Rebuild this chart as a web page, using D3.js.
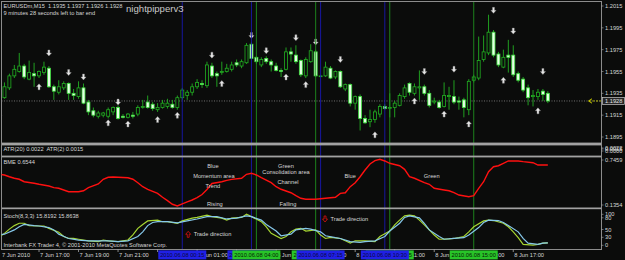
<!DOCTYPE html>
<html>
<head>
<meta charset="utf-8">
<script src="https://cdn.jsdelivr.net/npm/d3@7"></script>
<style>
  body { margin: 0; background: #0b0c0b; }
  svg { display: block; }
  text { font-family: "Liberation Sans", Arial, sans-serif; white-space: pre; }
</style>
</head>
<body>
<svg id="chart"></svg>
<script>
// EURUSDm M15, 7 Jun 2010 15:00 onwards, one row per bar: [open, high, low, close]
const bars = [
  [1.1929,1.1936,1.1927,1.1933],[1.1931,1.1945,1.1930,1.1941],[1.1940,1.1953,1.1938,1.1951],[1.1951,1.1961,1.1949,1.1957],
  [1.1955,1.1972,1.1954,1.1960],[1.1960,1.1962,1.1948,1.1950],[1.1948,1.1965,1.1947,1.1954],[1.1953,1.1963,1.1941,1.1951],
  [1.1951,1.1956,1.1949,1.1955],[1.1954,1.1964,1.1952,1.1959],[1.1958,1.1960,1.1940,1.1941],[1.1941,1.1943,1.1929,1.1937],
  [1.1936,1.1947,1.1934,1.1941],[1.1940,1.1946,1.1938,1.1944],[1.1944,1.1945,1.1929,1.1935],[1.1935,1.1939,1.1929,1.1933],
  [1.1932,1.1946,1.1930,1.1940],[1.1940,1.1944,1.1925,1.1926],[1.1927,1.1929,1.1915,1.1918],[1.1919,1.1922,1.1913,1.1915],
  [1.1914,1.1919,1.1912,1.1917],[1.1915,1.1918,1.1913,1.1917],[1.1914,1.1922,1.1912,1.1920],[1.1918,1.1923,1.1915,1.1922],
  [1.1922,1.1924,1.1911,1.1912],[1.1914,1.1916,1.1912,1.1913],[1.1913,1.1917,1.1912,1.1916],[1.1915,1.1918,1.1912,1.1914],
  [1.1916,1.1924,1.1914,1.1922],[1.1922,1.1929,1.1921,1.1923],[1.1927,1.1933,1.1921,1.1922],[1.1925,1.1927,1.1919,1.1921],
  [1.1920,1.1926,1.1918,1.1922],[1.1922,1.1929,1.1921,1.1926],[1.1923,1.1930,1.1921,1.1926],[1.1925,1.1929,1.1921,1.1922],
  [1.1922,1.1933,1.1920,1.1931],[1.1931,1.1940,1.1929,1.1938],[1.1933,1.1938,1.1929,1.1936],[1.1936,1.1944,1.1933,1.1941],
  [1.1941,1.1948,1.1939,1.1945],[1.1944,1.1947,1.1940,1.1943],[1.1942,1.1964,1.1940,1.1961],[1.1960,1.1963,1.1949,1.1951],
  [1.1953,1.1955,1.1941,1.1951],[1.1954,1.1964,1.1952,1.1955],[1.1955,1.1962,1.1954,1.1958],[1.1957,1.1964,1.1955,1.1961],
  [1.1963,1.1966,1.1959,1.1961],[1.1960,1.1966,1.1958,1.1964],[1.1963,1.1981,1.1962,1.1979],[1.1980,1.1982,1.1966,1.1967],
  [1.1968,1.1969,1.1962,1.1964],[1.1961,1.1968,1.1959,1.1966],[1.1967,1.1969,1.1962,1.1964],[1.1964,1.1966,1.1955,1.1961],
  [1.1960,1.1963,1.1955,1.1956],[1.1956,1.1958,1.1950,1.1955],[1.1957,1.1977,1.1956,1.1973],[1.1973,1.1977,1.1964,1.1971],
  [1.1970,1.1979,1.1962,1.1964],[1.1965,1.1966,1.1950,1.1952],[1.1951,1.1968,1.1949,1.1966],[1.1964,1.1980,1.1963,1.1974],
  [1.1973,1.1975,1.1950,1.1951],[1.1951,1.1952,1.1950,1.1951],[1.1951,1.1964,1.1950,1.1959],[1.1958,1.1960,1.1948,1.1949],
  [1.1950,1.1956,1.1948,1.1955],[1.1955,1.1956,1.1940,1.1941],[1.1939,1.1944,1.1937,1.1943],[1.1943,1.1944,1.1923,1.1926],
  [1.1926,1.1933,1.1920,1.1932],[1.1932,1.1934,1.1901,1.1912],[1.1912,1.1915,1.1907,1.1908],[1.1909,1.1920,1.1904,1.1911],
  [1.1911,1.1920,1.1908,1.1918],[1.1916,1.1925,1.1913,1.1923],[1.1923,1.1925,1.1920,1.1921],[1.1922,1.1935,1.1913,1.1922],
  [1.1922,1.1928,1.1913,1.1926],[1.1924,1.1935,1.1923,1.1933],[1.1932,1.1943,1.1930,1.1940],[1.1944,1.1945,1.1933,1.1936],
  [1.1935,1.1944,1.1933,1.1941],[1.1940,1.1956,1.1929,1.1941],[1.1941,1.1943,1.1933,1.1935],[1.1935,1.1938,1.1922,1.1924],
  [1.1927,1.1931,1.1925,1.1928],[1.1927,1.1929,1.1921,1.1922],[1.1923,1.1945,1.1922,1.1933],[1.1932,1.1941,1.1920,1.1933],
  [1.1932,1.1947,1.1925,1.1927],[1.1928,1.1932,1.1920,1.1927],[1.1929,1.1931,1.1913,1.1922],[1.1920,1.1948,1.1915,1.1946],
  [1.1947,1.1952,1.1945,1.1950],[1.1949,1.1987,1.1947,1.1965],[1.1966,1.1988,1.1964,1.1973],[1.1972,1.2007,1.1970,1.1991],
  [1.1991,1.1993,1.1968,1.1970],[1.1971,1.1973,1.1959,1.1961],[1.1959,1.1975,1.1958,1.1968],[1.1970,1.1984,1.1954,1.1968],
  [1.1970,1.1979,1.1950,1.1952],[1.1953,1.1955,1.1945,1.1947],[1.1948,1.1950,1.1936,1.1938],[1.1940,1.1943,1.1924,1.1931],
  [1.1932,1.1938,1.1923,1.1933],[1.1932,1.1939,1.1929,1.1936],[1.1937,1.1939,1.1928,1.1934],[1.1935,1.1937,1.1926,1.1928]
];
const lastPrice = 1.1928;

// signal arrows: [bar index, price]
const downArrows = [[10,1.1972],[14,1.1954],[17,1.1950],[24,1.1927],[43,1.1970],[51,1.1988],[54,1.1974],[60,1.1986],
  [64,1.1982],[69,1.1966],[86,1.1955],[92,1.1957],[100,1.2011],[104,1.1992],[110,1.1955]];
const upArrows = [[0,1.1915],[8,1.1941],[22,1.1908],[26,1.1907],[32,1.1911],[36,1.1915],[45,1.1944],[58,1.1950],
  [62,1.1943],[76,1.1897],[84,1.1928],[90,1.1916],[95,1.1907],[102,1.1947],[109,1.1919]];

// BME indicator: [bar index, value]
const bme = [[0,0.550],[1,0.541],[2,0.518],[3,0.498],[4,0.485],[5,0.453],[7,0.432],[8,0.419],[10,0.397],[11,0.375],
  [12,0.367],[14,0.322],[16,0.322],[17,0.335],[18,0.375],[20,0.423],[21,0.485],[22,0.511],[23,0.515],[24,0.511],
  [26,0.505],[27,0.485],[28,0.440],[29,0.388],[30,0.354],[32,0.301],[33,0.249],[34,0.205],[35,0.158],[36,0.1354],
  [37,0.164],[38,0.190],[39,0.214],[40,0.244],[41,0.286],[42,0.351],[43,0.430],[45,0.453],[46,0.471],[47,0.484],
  [49,0.498],[50,0.550],[51,0.563],[52,0.541],[53,0.505],[55,0.440],[56,0.388],[57,0.354],[59,0.309],[60,0.270],
  [61,0.236],[62,0.223],[64,0.223],[66,0.236],[68,0.249],[69,0.301],[70,0.309],[71,0.388],[72,0.440],[73,0.518],
  [74,0.606],[75,0.684],[76,0.728],[77,0.7459],[78,0.724],[79,0.694],[81,0.662],[82,0.615],[83,0.518],[84,0.498],
  [86,0.440],[87,0.419],[88,0.367],[90,0.345],[91,0.335],[92,0.309],[93,0.279],[95,0.257],[96,0.270],[97,0.367],
  [98,0.453],[99,0.584],[100,0.649],[101,0.662],[102,0.694],[103,0.724],[105,0.724],[106,0.715],[108,0.701],
  [109,0.671],[111,0.671]];

// Stochastic(8,3,3): [bar index, value]
const stochMain = [[0,31],[1,40],[2,51],[3,60],[4,66],[5,66],[6,60],[8,59],[9,59],[10,53],[12,43],[13,32],[14,27],
  [15,27],[16,25],[17,23],[18,21],[20,19],[21,23],[22,21],[24,19],[25,21],[26,23],[27,36],[28,53],[29,63],[30,72],
  [32,74],[33,70],[34,70],[36,66],[37,72],[39,79],[40,81],[42,87],[43,83],[45,79],[46,74],[47,79],[49,81],[50,89],
  [51,83],[53,70],[54,57],[55,40],[57,27],[58,32],[59,44],[60,51],[61,53],[62,46],[64,49],[65,36],[66,27],[67,30],
  [69,27],[70,21],[71,15],[72,21],[74,21],[76,19],[77,32],[79,46],[80,62],[81,74],[82,85],[83,87],[84,85],[85,74],
  [86,62],[87,49],[88,36],[89,25],[91,26],[92,27],[93,29],[94,32],[95,44],[96,57],[98,72],[99,74],[100,73],[102,66],
  [103,57],[104,44],[105,29],[106,12],[108,10],[109,12],[110,15],[111,15.82]];
const stochSignal = [[0,36],[1,38],[3,49],[4,57],[5,63],[7,60],[8,59],[10,55],[11,49],[12,38],[14,27],[16,23],[18,21],
  [20,21],[22,21],[24,19],[26,21],[28,32],[29,44],[30,60],[31,68],[32,70],[34,70],[36,67],[38,72],[40,77],[42,83],
  [44,83],[46,77],[48,79],[50,85],[51,83],[53,74],[54,63],[56,46],[57,34],[59,38],[60,49],[62,53],[63,51],[65,44],
  [66,34],[68,29],[69,27],[71,19],[73,17],[74,19],[76,21],[78,32],[79,46],[81,66],[82,81],[83,85],[85,80],[86,66],
  [87,49],[89,32],[90,25],[92,27],[94,29],[95,36],[97,55],[98,68],[99,74],[101,73],[102,68],[103,60],[105,44],
  [106,27],[107,15],[109,12],[110,15],[111,15.86]];

// vertical lines: [bar index, colour, label] in drawing order
const vlines = [[37,"blue","2010.06.08 00:15"],[51,"blue","2010.06.08 03:45"],[52,"green","2010.06.08 04:00"],
  [64,"green","2010.06.08 07:00"],[65,"blue","2010.06.08 07:15"],[79,"green","2010.06.08 10:45"],
  [78,"blue","2010.06.08 10:30"],[96,"green","2010.06.08 15:00"]];

const timeTicks = [[8,"7 Jun 17:00"],[16,"7 Jun 19:00"],[24,"7 Jun 21:00"],[32,"7 Jun 23:00"],[40,"8 Jun 01:00"],
  [48,"8 Jun 03:00"],[56,"8 Jun 05:00"],[64,"8 Jun 07:00"],[72,"8 Jun 09:00"],[80,"8 Jun 11:00"],
  [88,"8 Jun 13:00"],[96,"8 Jun 15:00"],[104,"8 Jun 17:00"]];
const priceTicks = [1.1895,1.1915,1.1935,1.1955,1.1975,1.1995,1.2015];
const bmeTicks = [0.7459, 0.1354];
const stochTicks = [100, 80, 50, 30, 0];
const atrTicks = [0.0022, 0.0000, 0.0015];

// annotations in the BME window: [text, bar index, value]
const bmeNotes = [["Blue",43.2,0.662],["Momentum area",43.4,0.531],["Trend",43.2,0.401],["Rising",43.6,0.1615],
  ["Green",58,0.662],["Consolidation area",58,0.576],["Channel",58.4,0.453],["Falling",58.4,0.1615],
  ["Blue",71,0.531],["Green",87.5,0.531]];
// annotations in the stochastic window: [text, bar index, value, direction]
const stochNotes = [["Trade direction",38.2,37.7,"up"],["Trade direction",65.9,76.9,"down"]];

const W = 625, H = 260;
const txt = "#d6d6d6", fs = 5.7;
const svg = d3.select("#chart").attr("width", W).attr("height", H);

const x = d3.scaleLinear().domain([0, 111]).range([-0.5, 547.84]);
const yMain = d3.scaleLinear().domain([1.1895, 1.2015]).range([137, 6]);
const yAtr = d3.scaleLinear().domain([0, 0.0022]).range([151, 148]);
const yBme = d3.scaleLinear().domain([0.1354, 0.7459]).range([206, 159.3]);
const yStoch = d3.scaleLinear().domain([0, 100]).range([249, 210]);

svg.append("rect").attr("width", W).attr("height", H).attr("fill", "#0b0c0b");

const defs = svg.append("defs");
defs.append("clipPath").attr("id", "clipMain")
  .append("rect").attr("x", 1.5).attr("y", 2).attr("width", 599.5).attr("height", 140.5);
defs.append("clipPath").attr("id", "clipSub")
  .append("rect").attr("x", 1.5).attr("y", 146).attr("width", 599.5).attr("height", 103);

// price line
svg.append("line")
  .attr("x1", 1.5).attr("x2", 601).attr("y1", yMain(lastPrice)).attr("y2", yMain(lastPrice))
  .attr("stroke", "#8a8a8a").attr("stroke-width", 0.8).attr("stroke-dasharray", "1,1.5");

// candles
const main = svg.append("g").attr("clip-path", "url(#clipMain)");
const candle = main.selectAll("g.c").data(bars).enter().append("g").attr("class", "c");
candle.append("line")
  .attr("x1", (d, i) => x(i)).attr("x2", (d, i) => x(i))
  .attr("y1", d => yMain(d[1])).attr("y2", d => yMain(d[2]))
  .attr("stroke", "#22b022").attr("stroke-width", 0.9);
candle.append("rect")
  .attr("x", (d, i) => x(i) - 1.5).attr("width", 3)
  .attr("y", d => yMain(Math.max(d[0], d[3])))
  .attr("height", d => Math.max(0.8, Math.abs(yMain(d[0]) - yMain(d[3]))))
  .attr("fill", d => d[3] < d[0] ? "#e4ffe4" : "#0b0c0b")
  .attr("stroke", d => d[3] < d[0] ? "#3ee03e" : "#22b022")
  .attr("stroke-width", 0.8);

// arrow glyph centred on (cx, cy): half-width hw, half-height hh
function arrowPath(cx, cy, dir, hw, hh) {
  const k = dir === "down" ? 1 : -1, sw = hw * 0.38;
  return `M${cx - sw},${cy - hh * k} L${cx + sw},${cy - hh * k} L${cx + sw},${cy}` +
    ` L${cx + hw},${cy} L${cx},${cy + hh * k} L${cx - hw},${cy} L${cx - sw},${cy} Z`;
}
main.selectAll("path.dn").data(downArrows).enter().append("path").attr("class", "dn")
  .attr("d", d => arrowPath(x(d[0]), yMain(d[1]), "down", 2.6, 3))
  .attr("fill", "#e6e6e6").attr("stroke", "#8c8c8c").attr("stroke-width", 0.4);
main.selectAll("path.up").data(upArrows).enter().append("path").attr("class", "up")
  .attr("d", d => arrowPath(x(d[0]), yMain(d[1]), "up", 2.6, 3))
  .attr("fill", "#e6e6e6").attr("stroke", "#8c8c8c").attr("stroke-width", 0.4);

// vertical lines through all windows
svg.selectAll("line.v").data(vlines).enter().append("line").attr("class", "v")
  .attr("x1", d => x(d[0])).attr("x2", d => x(d[0]))
  .attr("y1", 2).attr("y2", 249.5)
  .attr("stroke", d => d[1] === "blue" ? "#1818b0" : "#1f8f1f").attr("stroke-width", 0.9);

// window separators and frame
[[142.6, 2.8], [155.6, 1.8], [207.5, 1.7]].forEach(([y, h]) => {
  svg.append("rect").attr("x", 1).attr("y", y).attr("width", 600.5).attr("height", h).attr("fill", "#a2a2a2");
});
svg.append("rect").attr("x", 1.5).attr("y", 1.5).attr("width", 600).attr("height", 248)
  .attr("fill", "none").attr("stroke", "#8c8c8c").attr("stroke-width", 1);

// BME window
const sub = svg.append("g").attr("clip-path", "url(#clipSub)");
sub.append("path").datum(bme)
  .attr("d", d3.line().x(d => x(d[0])).y(d => yBme(d[1])))
  .attr("fill", "none").attr("stroke", "#ff1010").attr("stroke-width", 1.4);
svg.selectAll("text.bn").data(bmeNotes).enter().append("text").attr("class", "bn")
  .attr("x", d => x(d[1])).attr("y", d => yBme(d[2]) + 2)
  .attr("text-anchor", "middle").attr("font-size", fs).attr("fill", txt).text(d => d[0]);

// stochastic window
sub.append("path").datum(stochMain)
  .attr("d", d3.line().x(d => x(d[0])).y(d => yStoch(d[1])))
  .attr("fill", "none").attr("stroke", "#a6d632").attr("stroke-width", 1.2);
sub.append("path").datum(stochSignal)
  .attr("d", d3.line().x(d => x(d[0])).y(d => yStoch(d[1])))
  .attr("fill", "none").attr("stroke", "#86c8ea").attr("stroke-width", 1.2);
const sn = svg.selectAll("g.sn").data(stochNotes).enter().append("g").attr("class", "sn");
sn.append("path")
  .attr("d", d => arrowPath(x(d[1]), yStoch(d[2]), d[3], 2.5, 3))
  .attr("fill", "none").attr("stroke", "#e01010").attr("stroke-width", 0.8);
sn.append("text")
  .attr("x", d => x(d[1]) + 5.5).attr("y", d => yStoch(d[2]) + 2)
  .attr("font-size", fs).attr("fill", txt).text(d => d[0]);

// right price scales
function rightLabels(ticks, scale, lo, hi, fmt) {
  const pos = d => Math.min(hi, Math.max(lo, scale(d)));
  const g = svg.append("g");
  g.selectAll("line").data(ticks).enter().append("line")
    .attr("x1", 601.5).attr("x2", 603.5).attr("y1", pos).attr("y2", pos)
    .attr("stroke", "#b0b0b0").attr("stroke-width", 0.6);
  g.selectAll("text").data(ticks).enter().append("text")
    .attr("x", 605).attr("y", d => pos(d) + 2)
    .attr("font-size", fs).attr("fill", txt).text(fmt);
}
rightLabels(priceTicks, yMain, 4, 141, d3.format(".4f"));
rightLabels(atrTicks, yAtr, 147, 153, d3.format(".4f"));
rightLabels(bmeTicks, yBme, 160, 205, d3.format(".4f"));
rightLabels(stochTicks, yStoch, 214.3, 245.3, d => d);

// bid label and pointer
const yb = yMain(lastPrice);
svg.append("rect").attr("x", 602.5).attr("y", yb - 3.6).attr("width", 22).attr("height", 7.2)
  .attr("fill", "#262626").attr("stroke", "#c8c8c8").attr("stroke-width", 0.7);
svg.append("text").attr("x", 605).attr("y", yb + 2).attr("font-size", fs).attr("fill", "#e8e8e8")
  .text(d3.format(".4f")(lastPrice));
svg.append("path").attr("d", `M592,${yb - 2.2} L588.5,${yb} L592,${yb + 2.2}`)
  .attr("fill", "none").attr("stroke", "#c8c800").attr("stroke-width", 1);
svg.append("line").attr("x1", 589).attr("x2", 601).attr("y1", yb).attr("y2", yb)
  .attr("stroke", "#c8c800").attr("stroke-width", 0.9).attr("stroke-dasharray", "2,1.5");

// time axis
svg.append("text").attr("x", 2).attr("y", 256.8).attr("font-size", fs).attr("fill", txt).text("7 Jun 2010");
const tt = svg.selectAll("g.tt").data(timeTicks).enter().append("g").attr("class", "tt");
tt.append("line").attr("x1", d => x(d[0])).attr("x2", d => x(d[0])).attr("y1", 249.5).attr("y2", 252)
  .attr("stroke", "#c0c0c0").attr("stroke-width", 0.7);
tt.append("text").attr("x", d => x(d[0]) + 1).attr("y", 256.8)
  .attr("font-size", fs).attr("fill", txt).text(d => d[1]);
const vb = svg.selectAll("g.vb").data(vlines).enter().append("g").attr("class", "vb");
vb.append("rect").attr("x", d => x(d[0]) - 24).attr("y", 250.4).attr("width", 48).attr("height", 9)
  .attr("fill", d => d[1] === "blue" ? "#2020e6" : "#28c428");
vb.append("text").attr("x", d => x(d[0])).attr("y", 256.8).attr("text-anchor", "middle")
  .attr("font-size", fs).attr("fill", d => d[1] === "blue" ? "#0a0a40" : "#062006").text(d => d[2]);

// window captions
const caption = (s, xx, yy, size, col) => svg.append("text").attr("x", xx).attr("y", yy)
  .attr("font-size", size).attr("fill", col).text(s);
caption("EURUSDm,M15  1.1935 1.1937 1.1926 1.1928", 3.5, 8, fs, txt);
caption("9 minutes 28 seconds left to bar end", 3.5, 14.7, fs, txt);
caption("nightpipperv3", 126, 12.3, 9.6, "#c8c8c8");
caption("ATR(20) 0.0022  ATR(2) 0.0015", 3.5, 151, fs, txt);
caption("BME 0.6544", 3.5, 164, fs, txt);
caption("Stoch(8,3,3) 15.8192 15.8638", 3.5, 217.7, fs, txt);
caption("Interbank FX Trader 4, © 2001-2010 MetaQuotes Software Corp.", 3.5, 247, fs, txt);
</script>
</body>
</html>
